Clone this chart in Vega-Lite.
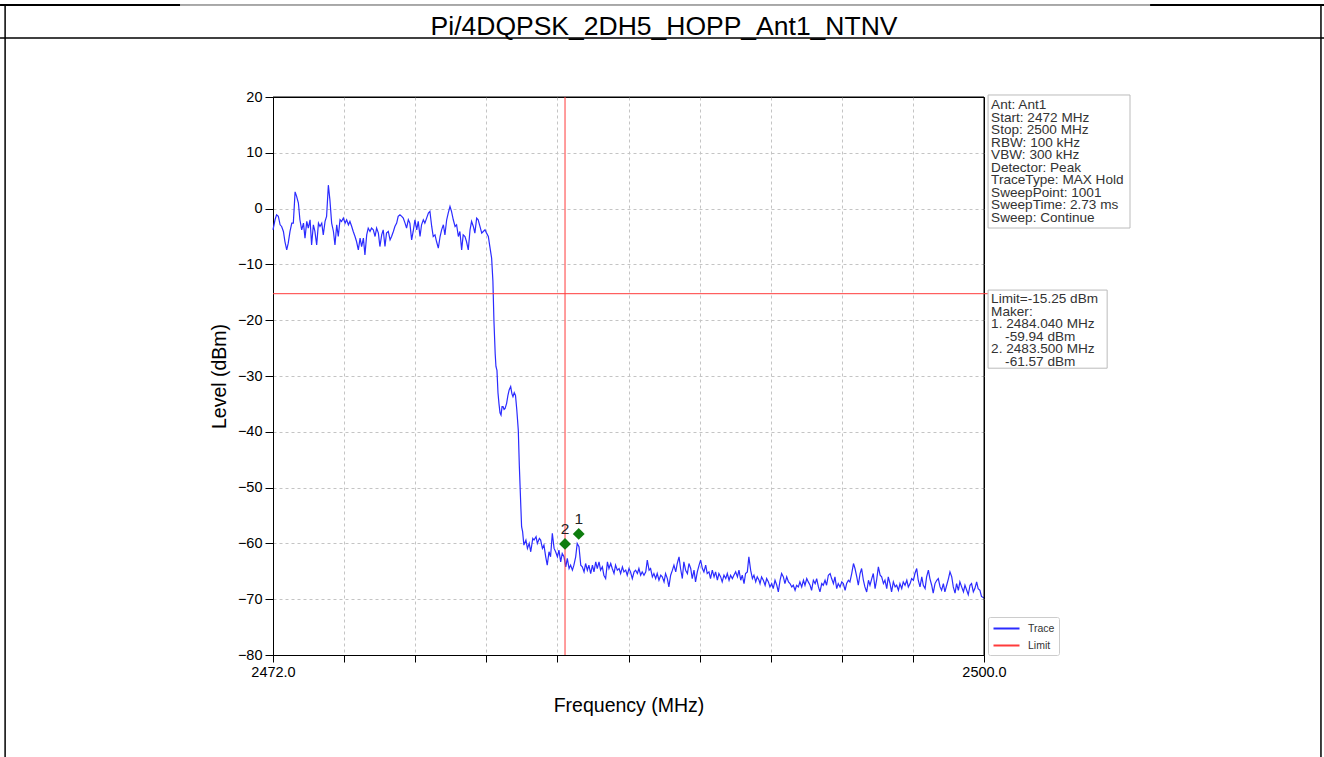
{
  "$schema": "https://vega.github.io/schema/vega-lite/v6.json",
  "width": 711,
  "height": 558,
  "autosize": {"type": "none"},
  "padding": {"left": 273, "top": 97, "right": 340, "bottom": 102},
  "background": "white",
  "config": {
    "font": "Liberation Sans",
    "view": {"stroke": "black", "strokeWidth": 1}
  },
  "datasets": {
    "trace": [
      {"f":2472.00,"v":-3.8},{"f":2472.08,"v":-2.0},{"f":2472.14,"v":-1.1},{"f":2472.21,"v":-1.4},{"f":2472.28,"v":-2.9},{"f":2472.34,"v":-3.2},{"f":2472.41,"v":-4.1},{"f":2472.47,"v":-5.9},{"f":2472.54,"v":-7.4},{"f":2472.60,"v":-6.2},
      {"f":2472.67,"v":-4.1},{"f":2472.74,"v":-2.6},{"f":2472.80,"v":-2.6},{"f":2472.87,"v":3.0},{"f":2472.93,"v":2.2},{"f":2473.00,"v":1.0},{"f":2473.06,"v":-2.0},{"f":2473.13,"v":-3.8},{"f":2473.20,"v":-2.6},{"f":2473.26,"v":-5.3},
      {"f":2473.33,"v":-2.3},{"f":2473.39,"v":-3.5},{"f":2473.46,"v":-2.0},{"f":2473.52,"v":-6.5},{"f":2473.59,"v":-2.9},{"f":2473.65,"v":-4.1},{"f":2473.72,"v":-6.5},{"f":2473.79,"v":-2.6},{"f":2473.85,"v":-3.2},{"f":2473.92,"v":-2.6},
      {"f":2473.98,"v":-4.7},{"f":2474.05,"v":-2.3},{"f":2474.11,"v":-1.4},{"f":2474.18,"v":4.2},{"f":2474.24,"v":1.6},{"f":2474.31,"v":-2.6},{"f":2474.38,"v":-4.1},{"f":2474.44,"v":-6.5},{"f":2474.51,"v":-2.9},{"f":2474.57,"v":-5.0},
      {"f":2474.64,"v":-2.0},{"f":2474.70,"v":-2.3},{"f":2474.77,"v":-1.7},{"f":2474.84,"v":-2.6},{"f":2474.90,"v":-2.0},{"f":2474.97,"v":-2.9},{"f":2475.03,"v":-2.3},{"f":2475.10,"v":-3.2},{"f":2475.16,"v":-4.1},{"f":2475.23,"v":-5.0},
      {"f":2475.29,"v":-5.9},{"f":2475.36,"v":-7.4},{"f":2475.43,"v":-5.3},{"f":2475.49,"v":-6.8},{"f":2475.56,"v":-5.3},{"f":2475.62,"v":-8.3},{"f":2475.69,"v":-4.7},{"f":2475.75,"v":-3.5},{"f":2475.82,"v":-4.1},{"f":2475.88,"v":-3.5},
      {"f":2475.95,"v":-3.8},{"f":2476.02,"v":-5.0},{"f":2476.08,"v":-3.5},{"f":2476.15,"v":-4.4},{"f":2476.21,"v":-6.8},{"f":2476.28,"v":-4.7},{"f":2476.34,"v":-3.8},{"f":2476.41,"v":-6.8},{"f":2476.47,"v":-4.4},{"f":2476.54,"v":-4.1},
      {"f":2476.61,"v":-5.6},{"f":2476.67,"v":-5.0},{"f":2476.74,"v":-4.1},{"f":2476.80,"v":-3.2},{"f":2476.87,"v":-2.6},{"f":2476.93,"v":-1.4},{"f":2477.00,"v":-1.1},{"f":2477.07,"v":-1.4},{"f":2477.13,"v":-1.7},{"f":2477.20,"v":-2.6},
      {"f":2477.26,"v":-3.5},{"f":2477.33,"v":-2.0},{"f":2477.39,"v":-2.6},{"f":2477.46,"v":-5.6},{"f":2477.52,"v":-4.1},{"f":2477.59,"v":-2.0},{"f":2477.66,"v":-3.8},{"f":2477.72,"v":-2.3},{"f":2477.79,"v":-5.0},{"f":2477.85,"v":-2.9},
      {"f":2477.92,"v":-2.0},{"f":2477.98,"v":-2.6},{"f":2478.05,"v":-1.7},{"f":2478.12,"v":-0.8},{"f":2478.18,"v":-0.5},{"f":2478.25,"v":-3.2},{"f":2478.31,"v":-5.0},{"f":2478.38,"v":-4.7},{"f":2478.44,"v":-5.9},{"f":2478.51,"v":-7.1},
      {"f":2478.58,"v":-5.0},{"f":2478.64,"v":-3.8},{"f":2478.71,"v":-2.9},{"f":2478.77,"v":-4.7},{"f":2478.84,"v":-2.0},{"f":2478.90,"v":-0.8},{"f":2478.97,"v":0.4},{"f":2479.03,"v":-0.5},{"f":2479.10,"v":-2.0},{"f":2479.17,"v":-3.2},
      {"f":2479.23,"v":-2.9},{"f":2479.30,"v":-5.0},{"f":2479.36,"v":-4.1},{"f":2479.43,"v":-7.4},{"f":2479.49,"v":-4.7},{"f":2479.56,"v":-5.0},{"f":2479.62,"v":-5.9},{"f":2479.69,"v":-7.4},{"f":2479.76,"v":-3.8},{"f":2479.82,"v":-2.3},
      {"f":2479.89,"v":-3.2},{"f":2479.95,"v":-4.4},{"f":2480.02,"v":-1.7},{"f":2480.08,"v":-2.0},{"f":2480.15,"v":-3.2},{"f":2480.22,"v":-4.4},{"f":2480.28,"v":-4.1},{"f":2480.35,"v":-3.8},{"f":2480.41,"v":-4.4},{"f":2480.48,"v":-5.0},
      {"f":2480.54,"v":-6.8},{"f":2480.61,"v":-8.9},
      {"f":2480.66,"v":-13.0},{"f":2480.70,"v":-20.0},{"f":2480.75,"v":-26.0},{"f":2480.78,"v":-28.3},{"f":2480.82,"v":-29.0},{"f":2480.86,"v":-33.0},{"f":2480.90,"v":-35.0},{"f":2480.94,"v":-36.6},{"f":2480.98,"v":-37.0},{"f":2481.02,"v":-35.5},
      {"f":2481.06,"v":-35.5},{"f":2481.10,"v":-36.0},{"f":2481.14,"v":-35.8},{"f":2481.20,"v":-34.9},{"f":2481.25,"v":-33.5},{"f":2481.30,"v":-32.5},{"f":2481.36,"v":-31.9},{"f":2481.41,"v":-33.2},{"f":2481.45,"v":-33.7},{"f":2481.50,"v":-33.0},
      {"f":2481.55,"v":-33.5},{"f":2481.60,"v":-36.0},{"f":2481.66,"v":-39.7},{"f":2481.70,"v":-46.0},{"f":2481.75,"v":-52.2},{"f":2481.79,"v":-57.0},
      {"f":2481.83,"v":-57.9},{"f":2481.88,"v":-60.3},{"f":2481.96,"v":-59.4},{"f":2482.02,"v":-60.9},{"f":2482.09,"v":-60.0},{"f":2482.15,"v":-61.5},{"f":2482.23,"v":-59.1},{"f":2482.28,"v":-59.4},{"f":2482.36,"v":-58.8},{"f":2482.41,"v":-60.0},
      {"f":2482.49,"v":-59.1},{"f":2482.54,"v":-59.4},{"f":2482.61,"v":-60.9},{"f":2482.67,"v":-60.3},{"f":2482.74,"v":-62.4},{"f":2482.80,"v":-63.9},{"f":2482.87,"v":-61.5},{"f":2482.93,"v":-62.4},{"f":2483.00,"v":-58.2},
      {"f":2483.07,"v":-60.9},{"f":2483.13,"v":-61.5},{"f":2483.20,"v":-62.4},{"f":2483.26,"v":-61.2},{"f":2483.33,"v":-63.3},{"f":2483.39,"v":-61.8},{"f":2483.46,"v":-62.4},{"f":2483.53,"v":-64.2},{"f":2483.59,"v":-62.7},{"f":2483.66,"v":-64.5},
      {"f":2483.72,"v":-63.9},{"f":2483.79,"v":-64.8},{"f":2483.85,"v":-63.9},{"f":2483.92,"v":-62.4},{"f":2483.98,"v":-60.0},{"f":2484.05,"v":-60.6},{"f":2484.12,"v":-63.9},{"f":2484.18,"v":-64.2},{"f":2484.25,"v":-65.1},{"f":2484.31,"v":-63.6},
      {"f":2484.38,"v":-64.8},{"f":2484.44,"v":-63.9},{"f":2484.51,"v":-65.4},{"f":2484.58,"v":-63.9},{"f":2484.64,"v":-65.1},{"f":2484.71,"v":-63.3},{"f":2484.77,"v":-64.5},{"f":2484.84,"v":-63.3},{"f":2484.90,"v":-64.8},{"f":2484.97,"v":-64.2},
      {"f":2485.03,"v":-65.7},{"f":2485.10,"v":-66.3},{"f":2485.17,"v":-63.3},{"f":2485.23,"v":-64.5},{"f":2485.30,"v":-63.6},{"f":2485.36,"v":-64.5},{"f":2485.43,"v":-65.4},{"f":2485.49,"v":-63.9},{"f":2485.56,"v":-64.8},{"f":2485.63,"v":-64.5},
      {"f":2485.69,"v":-65.4},{"f":2485.76,"v":-64.2},{"f":2485.82,"v":-65.1},{"f":2485.89,"v":-64.8},{"f":2485.95,"v":-65.7},{"f":2486.02,"v":-64.5},{"f":2486.08,"v":-65.1},{"f":2486.15,"v":-66.3},{"f":2486.22,"v":-65.1},{"f":2486.28,"v":-64.8},
      {"f":2486.35,"v":-65.4},{"f":2486.41,"v":-64.5},{"f":2486.48,"v":-65.7},{"f":2486.54,"v":-65.1},{"f":2486.61,"v":-65.7},{"f":2486.68,"v":-65.1},{"f":2486.74,"v":-63.0},{"f":2486.81,"v":-64.8},{"f":2486.87,"v":-64.5},{"f":2486.94,"v":-66.0},
      {"f":2487.00,"v":-65.4},{"f":2487.07,"v":-66.3},{"f":2487.13,"v":-65.4},{"f":2487.20,"v":-66.6},{"f":2487.27,"v":-65.7},{"f":2487.33,"v":-66.0},{"f":2487.40,"v":-66.9},{"f":2487.46,"v":-65.4},{"f":2487.53,"v":-66.3},{"f":2487.59,"v":-67.8},
      {"f":2487.66,"v":-65.7},{"f":2487.73,"v":-64.8},{"f":2487.79,"v":-63.9},{"f":2487.86,"v":-65.1},{"f":2487.92,"v":-63.6},{"f":2487.99,"v":-62.4},{"f":2488.05,"v":-64.5},{"f":2488.12,"v":-66.3},{"f":2488.18,"v":-63.3},{"f":2488.25,"v":-64.8},
      {"f":2488.32,"v":-65.4},{"f":2488.38,"v":-63.6},{"f":2488.45,"v":-64.5},{"f":2488.51,"v":-66.3},{"f":2488.58,"v":-64.8},{"f":2488.64,"v":-66.9},{"f":2488.71,"v":-65.1},{"f":2488.78,"v":-63.9},{"f":2488.84,"v":-63.0},{"f":2488.91,"v":-64.5},
      {"f":2488.97,"v":-65.1},{"f":2489.04,"v":-63.9},{"f":2489.10,"v":-65.4},{"f":2489.17,"v":-65.1},{"f":2489.23,"v":-66.3},{"f":2489.30,"v":-64.8},{"f":2489.37,"v":-66.0},{"f":2489.43,"v":-65.1},{"f":2489.50,"v":-66.6},{"f":2489.56,"v":-65.4},
      {"f":2489.63,"v":-66.0},{"f":2489.69,"v":-66.9},{"f":2489.76,"v":-65.7},{"f":2489.83,"v":-66.3},{"f":2489.89,"v":-65.4},{"f":2489.96,"v":-66.6},{"f":2490.02,"v":-65.7},{"f":2490.09,"v":-66.3},{"f":2490.15,"v":-65.7},{"f":2490.22,"v":-65.1},
      {"f":2490.29,"v":-66.0},{"f":2490.35,"v":-64.8},{"f":2490.42,"v":-66.6},{"f":2490.48,"v":-65.7},{"f":2490.55,"v":-67.2},{"f":2490.61,"v":-65.4},{"f":2490.68,"v":-65.1},{"f":2490.74,"v":-62.4},{"f":2490.81,"v":-64.8},{"f":2490.88,"v":-66.3},
      {"f":2490.94,"v":-65.7},{"f":2491.01,"v":-66.9},{"f":2491.07,"v":-66.0},{"f":2491.14,"v":-66.6},
      {"f":2491.18,"v":-67.2},{"f":2491.24,"v":-66.0},{"f":2491.31,"v":-66.6},{"f":2491.38,"v":-67.5},{"f":2491.44,"v":-66.3},{"f":2491.51,"v":-66.9},{"f":2491.57,"v":-67.8},{"f":2491.64,"v":-67.2},{"f":2491.70,"v":-68.1},{"f":2491.77,"v":-66.6},
      {"f":2491.84,"v":-67.5},{"f":2491.90,"v":-68.7},{"f":2491.97,"v":-66.6},{"f":2492.03,"v":-65.4},{"f":2492.10,"v":-66.0},{"f":2492.16,"v":-67.2},{"f":2492.23,"v":-66.0},{"f":2492.30,"v":-66.9},{"f":2492.36,"v":-67.2},{"f":2492.43,"v":-67.8},
      {"f":2492.49,"v":-67.5},{"f":2492.56,"v":-68.4},{"f":2492.62,"v":-67.5},{"f":2492.69,"v":-67.8},{"f":2492.75,"v":-66.9},{"f":2492.82,"v":-67.8},{"f":2492.89,"v":-66.6},{"f":2492.95,"v":-67.5},{"f":2493.02,"v":-66.3},{"f":2493.08,"v":-66.9},
      {"f":2493.15,"v":-67.5},{"f":2493.21,"v":-68.4},{"f":2493.28,"v":-66.6},{"f":2493.35,"v":-67.2},{"f":2493.41,"v":-66.3},{"f":2493.48,"v":-67.8},{"f":2493.54,"v":-68.7},{"f":2493.61,"v":-67.2},{"f":2493.67,"v":-67.5},{"f":2493.74,"v":-66.6},
      {"f":2493.80,"v":-67.5},{"f":2493.87,"v":-65.7},{"f":2493.94,"v":-65.4},{"f":2494.00,"v":-66.3},{"f":2494.07,"v":-67.2},{"f":2494.13,"v":-66.0},{"f":2494.20,"v":-68.1},{"f":2494.26,"v":-67.2},{"f":2494.33,"v":-67.8},{"f":2494.40,"v":-66.9},
      {"f":2494.46,"v":-67.2},{"f":2494.53,"v":-68.4},{"f":2494.59,"v":-67.2},{"f":2494.66,"v":-66.6},{"f":2494.72,"v":-66.9},{"f":2494.79,"v":-65.4},{"f":2494.86,"v":-63.6},{"f":2494.92,"v":-64.5},{"f":2494.99,"v":-66.0},{"f":2495.05,"v":-67.5},
      {"f":2495.12,"v":-65.4},{"f":2495.18,"v":-64.5},{"f":2495.25,"v":-66.6},{"f":2495.31,"v":-67.8},{"f":2495.38,"v":-68.7},{"f":2495.45,"v":-66.6},{"f":2495.51,"v":-67.5},{"f":2495.58,"v":-66.3},{"f":2495.64,"v":-65.4},{"f":2495.71,"v":-68.1},
      {"f":2495.77,"v":-66.6},{"f":2495.84,"v":-64.2},{"f":2495.91,"v":-65.7},{"f":2495.97,"v":-66.0},{"f":2496.04,"v":-67.2},{"f":2496.10,"v":-66.6},{"f":2496.17,"v":-68.1},{"f":2496.23,"v":-66.0},{"f":2496.30,"v":-67.2},{"f":2496.36,"v":-68.7},
      {"f":2496.43,"v":-66.9},{"f":2496.50,"v":-67.8},{"f":2496.56,"v":-67.5},{"f":2496.63,"v":-68.4},{"f":2496.69,"v":-67.2},{"f":2496.76,"v":-68.1},{"f":2496.82,"v":-66.9},{"f":2496.89,"v":-67.5},{"f":2496.96,"v":-66.6},{"f":2497.02,"v":-67.8},
      {"f":2497.09,"v":-67.2},{"f":2497.15,"v":-66.3},{"f":2497.22,"v":-66.6},{"f":2497.28,"v":-65.4},{"f":2497.35,"v":-64.5},{"f":2497.41,"v":-66.6},{"f":2497.48,"v":-67.8},{"f":2497.55,"v":-66.0},{"f":2497.61,"v":-67.5},{"f":2497.68,"v":-68.1},
      {"f":2497.74,"v":-66.0},{"f":2497.81,"v":-64.8},{"f":2497.87,"v":-66.3},{"f":2497.94,"v":-67.5},{"f":2498.00,"v":-68.9},{"f":2498.07,"v":-67.2},{"f":2498.14,"v":-66.6},{"f":2498.20,"v":-66.3},{"f":2498.27,"v":-67.8},{"f":2498.33,"v":-68.4},
      {"f":2498.40,"v":-67.2},{"f":2498.46,"v":-68.7},{"f":2498.53,"v":-67.5},{"f":2498.60,"v":-66.3},{"f":2498.66,"v":-65.1},{"f":2498.73,"v":-66.0},{"f":2498.79,"v":-67.8},{"f":2498.86,"v":-68.9},{"f":2498.92,"v":-67.2},{"f":2498.99,"v":-68.4},
      {"f":2499.05,"v":-66.9},{"f":2499.12,"v":-67.8},{"f":2499.19,"v":-68.7},{"f":2499.25,"v":-67.5},{"f":2499.32,"v":-68.4},{"f":2499.38,"v":-69.2},{"f":2499.45,"v":-67.5},{"f":2499.51,"v":-67.2},{"f":2499.58,"v":-68.7},{"f":2499.64,"v":-68.1},
      {"f":2499.71,"v":-66.9},{"f":2499.77,"v":-68.1},{"f":2499.84,"v":-68.4},{"f":2499.90,"v":-69.5},{"f":2500.00,"v":-69.8}
    ],
    "markers": [
      {"f": 2483.5, "v": -60.1, "n": "2"},
      {"f": 2484.04, "v": -58.3, "n": "1"}
    ]
  },
  "layer": [
    {
      "data": {"values": [{}]},
      "mark": {"type": "rule", "color": "black", "strokeWidth": 2},
      "encoding": {
        "x": {"datum": 2461.25, "type": "quantitative"},
        "x2": {"datum": 2468.34},
        "y": {"datum": 36.49, "type": "quantitative"}
      }
    },
    {
      "data": {"values": [{}]},
      "mark": {"type": "rule", "color": "black", "strokeWidth": 2},
      "encoding": {
        "x": {"datum": 2506.54, "type": "quantitative"},
        "x2": {"datum": 2513.39},
        "y": {"datum": 36.49, "type": "quantitative"}
      }
    },
    {
      "data": {"values": [{}]},
      "mark": {"type": "rule", "color": "#555555", "strokeWidth": 1},
      "encoding": {
        "x": {"datum": 2468.34, "type": "quantitative"},
        "x2": {"datum": 2506.54},
        "y": {"datum": 36.49, "type": "quantitative"}
      }
    },
    {
      "data": {"values": [{}]},
      "mark": {"type": "rule", "color": "black", "strokeWidth": 1.5},
      "encoding": {
        "x": {"datum": 2461.25, "type": "quantitative"},
        "x2": {"datum": 2513.39},
        "y": {"datum": 30.57, "type": "quantitative"}
      }
    },
    {
      "data": {"values": [{}]},
      "mark": {"type": "rule", "color": "black", "strokeWidth": 1.5},
      "encoding": {
        "x": {"datum": 2461.45, "type": "quantitative"},
        "y": {"datum": 36.49, "type": "quantitative"},
        "y2": {"datum": -98.3}
      }
    },
    {
      "data": {"values": [{}]},
      "mark": {"type": "rule", "color": "black", "strokeWidth": 1.5},
      "encoding": {
        "x": {"datum": 2513.27, "type": "quantitative"},
        "y": {"datum": 36.49, "type": "quantitative"},
        "y2": {"datum": -98.3}
      }
    },
    {
      "data": {"values": [{"t": "Pi/4DQPSK_2DH5_HOPP_Ant1_NTNV"}]},
      "mark": {"type": "text", "fontSize": 26.5, "align": "center", "baseline": "alphabetic", "color": "black"},
      "encoding": {
        "x": {"datum": 2487.4, "type": "quantitative"},
        "y": {"datum": 31.1, "type": "quantitative"},
        "text": {"field": "t", "type": "nominal"}
      }
    },
    {
      "data": {"name": "trace"},
      "mark": {"type": "line", "strokeWidth": 1.2},
      "encoding": {
        "x": {
          "field": "f", "type": "quantitative",
          "scale": {"domain": [2472, 2500], "nice": false, "zero": false},
          "axis": {
            "title": "Frequency (MHz)",
            "values": [2472, 2474.8, 2477.6, 2480.4, 2483.2, 2486, 2488.8, 2491.6, 2494.4, 2497.2, 2500],
            "labelExpr": "datum.value == 2472 || datum.value == 2500 ? format(datum.value, '.1f') : ''",
            "labelFlush": false, "labelOverlap": false,
            "grid": true, "gridDash": [3, 3], "gridColor": "#c4c4c4",
            "gridOpacity": {"condition": {"test": "datum.value == 2472 || datum.value == 2500", "value": 0}, "value": 1},
            "tickSize": 7, "tickColor": "black", "domainColor": "black",
            "labelFontSize": 14.5, "labelColor": "black", "labelPadding": 3,
            "titleFontSize": 19.5, "titleFontWeight": "normal", "titleColor": "black", "titlePadding": 18
          }
        },
        "y": {
          "field": "v", "type": "quantitative",
          "scale": {"domain": [-80, 20], "nice": false, "zero": false},
          "axis": {
            "title": "Level (dBm)",
            "values": [-80, -70, -60, -50, -40, -30, -20, -10, 0, 10, 20],
            "labelFlush": false, "labelOverlap": false,
            "grid": true, "gridDash": [3, 3], "gridColor": "#c4c4c4",
            "gridOpacity": {"condition": {"test": "datum.value == 20 || datum.value == -80", "value": 0}, "value": 1},
            "tickSize": 8, "tickColor": "black", "domainColor": "black",
            "labelFontSize": 14.5, "labelColor": "black", "labelPadding": 3,
            "titleFontSize": 19.5, "titleFontWeight": "normal", "titleColor": "black", "titlePadding": 8
          }
        },
        "color": {
          "datum": "Trace", "type": "nominal",
          "scale": {"domain": ["Trace", "Limit"], "range": ["#2b2bff", "#ff3b3b"]},
          "legend": {
            "title": null, "orient": "none", "legendX": 715, "legendY": 520,
            "symbolType": "M-2,0H2", "symbolStrokeWidth": 2, "symbolSize": 169, "symbolOffset": 7,
            "labelFontSize": 10.5, "labelColor": "#333333", "labelOffset": 14,
            "rowPadding": 4, "padding": 4,
            "strokeColor": "#cccccc", "fillColor": "white", "cornerRadius": 2
          }
        }
      }
    },
    {
      "data": {"values": [{}]},
      "mark": {"type": "rule", "color": "black", "strokeWidth": 1},
      "encoding": {
        "x": {"datum": 2472, "type": "quantitative"},
        "x2": {"datum": 2500},
        "y": {"datum": 20, "type": "quantitative"}
      }
    },
    {
      "data": {"values": [{}]},
      "mark": {"type": "rule", "color": "black", "strokeWidth": 1},
      "encoding": {
        "x": {"datum": 2500, "type": "quantitative"},
        "y": {"datum": 20, "type": "quantitative"},
        "y2": {"datum": -80}
      }
    },
    {
      "data": {"values": [{"limit": -15.25}]},
      "mark": {"type": "rule", "strokeWidth": 1},
      "encoding": {
        "x": {"datum": 2472, "type": "quantitative"},
        "x2": {"datum": 2500.15},
        "y": {"field": "limit", "type": "quantitative"},
        "color": {"datum": "Limit", "type": "nominal"}
      }
    },
    {
      "data": {"values": [{"f": 2483.5}]},
      "mark": {"type": "rule", "strokeWidth": 1, "color": "#ff3b3b"},
      "encoding": {
        "x": {"field": "f", "type": "quantitative"}
      }
    },
    {
      "data": {"name": "markers"},
      "mark": {"type": "point", "shape": "diamond", "filled": true, "size": 140, "color": "#0e7d0e", "opacity": 1},
      "encoding": {
        "x": {"field": "f", "type": "quantitative"},
        "y": {"field": "v", "type": "quantitative"}
      }
    },
    {
      "data": {"name": "markers"},
      "mark": {"type": "text", "fontSize": 15.5, "dy": -15, "color": "#222222"},
      "encoding": {
        "x": {"field": "f", "type": "quantitative"},
        "y": {"field": "v", "type": "quantitative"},
        "text": {"field": "n", "type": "nominal"}
      }
    },
    {
      "data": {"values": [{}]},
      "mark": {"type": "rect", "fill": "white", "stroke": "#bbbbbb", "strokeWidth": 1},
      "encoding": {
        "x": {"datum": 2500.16, "type": "quantitative"},
        "x2": {"datum": 2505.75},
        "y": {"datum": 20.36, "type": "quantitative"},
        "y2": {"datum": -3.48}
      }
    },
    {
      "data": {"values": [{"lines": ["Ant: Ant1", "Start: 2472 MHz", "Stop: 2500 MHz", "RBW: 100 kHz", "VBW: 300 kHz", "Detector: Peak", "TraceType: MAX Hold", "SweepPoint: 1001", "SweepTime: 2.73 ms", "Sweep: Continue"]}]},
      "mark": {"type": "text", "fontSize": 13.6, "lineHeight": 12.5, "align": "left", "baseline": "top", "color": "#333333"},
      "encoding": {
        "x": {"datum": 2500.28, "type": "quantitative"},
        "y": {"datum": 19.82, "type": "quantitative"},
        "text": {"field": "lines", "type": "nominal"}
      }
    },
    {
      "data": {"values": [{}]},
      "mark": {"type": "rect", "fill": "white", "stroke": "#bbbbbb", "strokeWidth": 1},
      "encoding": {
        "x": {"datum": 2500.16, "type": "quantitative"},
        "x2": {"datum": 2504.85},
        "y": {"datum": -14.6, "type": "quantitative"},
        "y2": {"datum": -28.6}
      }
    },
    {
      "data": {"values": [{"lines": ["Limit=-15.25 dBm", "Maker:", "1. 2484.040 MHz"]}]},
      "mark": {"type": "text", "fontSize": 13.6, "lineHeight": 12.5, "align": "left", "baseline": "top", "color": "#333333"},
      "encoding": {
        "x": {"datum": 2500.28, "type": "quantitative"},
        "y": {"datum": -15.0, "type": "quantitative"},
        "text": {"field": "lines", "type": "nominal"}
      }
    },
    {
      "data": {"values": [{"s": "-59.94 dBm"}]},
      "mark": {"type": "text", "fontSize": 13.6, "align": "left", "baseline": "top", "color": "#333333", "dx": 14},
      "encoding": {
        "x": {"datum": 2500.28, "type": "quantitative"},
        "y": {"datum": -21.72, "type": "quantitative"},
        "text": {"field": "s", "type": "nominal"}
      }
    },
    {
      "data": {"values": [{"s": "2. 2483.500 MHz"}]},
      "mark": {"type": "text", "fontSize": 13.6, "align": "left", "baseline": "top", "color": "#333333"},
      "encoding": {
        "x": {"datum": 2500.28, "type": "quantitative"},
        "y": {"datum": -23.96, "type": "quantitative"},
        "text": {"field": "s", "type": "nominal"}
      }
    },
    {
      "data": {"values": [{"s": "-61.57 dBm"}]},
      "mark": {"type": "text", "fontSize": 13.6, "align": "left", "baseline": "top", "color": "#333333", "dx": 14},
      "encoding": {
        "x": {"datum": 2500.28, "type": "quantitative"},
        "y": {"datum": -26.2, "type": "quantitative"},
        "text": {"field": "s", "type": "nominal"}
      }
    }
  ]
}
